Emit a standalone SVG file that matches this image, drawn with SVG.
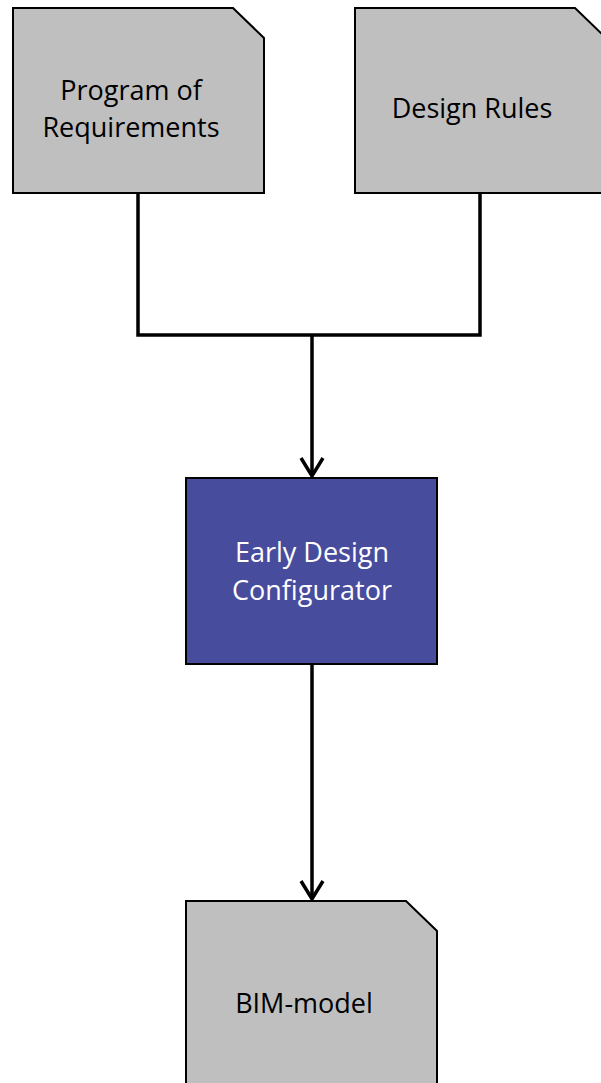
<svg xmlns="http://www.w3.org/2000/svg" width="601" height="1083" viewBox="0 0 601 1083">
<style>
.doc{fill:#BFBFBF;stroke:#000;stroke-width:2;stroke-linejoin:miter}
.proc{fill:#484C9C;stroke:#000;stroke-width:2}
.t{font-family:"Open Sans","Liberation Sans",sans-serif;font-size:27px;text-anchor:middle;fill:#000}
.tw{fill:#fff}
.c{fill:none;stroke:#000;stroke-width:3.5}
</style>
<rect width="601" height="1083" fill="#fff"/>
<g id="connectors">
<polyline class="c" points="138,193 138,335 480,335 480,193"/>
<line class="c" x1="312" y1="335" x2="312" y2="476"/>
<polyline class="c" points="301,458 312,476 323,458"/>
<line class="c" x1="312" y1="664" x2="312" y2="899"/>
<polyline class="c" points="301,881 312,899 323,881"/>
</g>
<g id="program-of-requirements">
<path class="doc" d="M13,8 H233 L264,38 V193 H13 Z"/>
<text class="t" x="131" y="100">Program of</text>
<text class="t" x="131" y="137">Requirements</text>
</g>
<g id="design-rules">
<path class="doc" d="M355,8 H575 L606,38 V193 H355 Z"/>
<text class="t" x="472" y="118">Design Rules</text>
</g>
<g id="early-design-configurator">
<rect class="proc" x="186" y="478" width="251" height="186"/>
<text class="t tw" x="312" y="562">Early Design</text>
<text class="t tw" x="312" y="600">Configurator</text>
</g>
<g id="bim-model">
<path class="doc" d="M186,901 H406 L437,931 V1090 H186 Z"/>
<text class="t" x="304" y="1013">BIM-model</text>
</g>
</svg>
